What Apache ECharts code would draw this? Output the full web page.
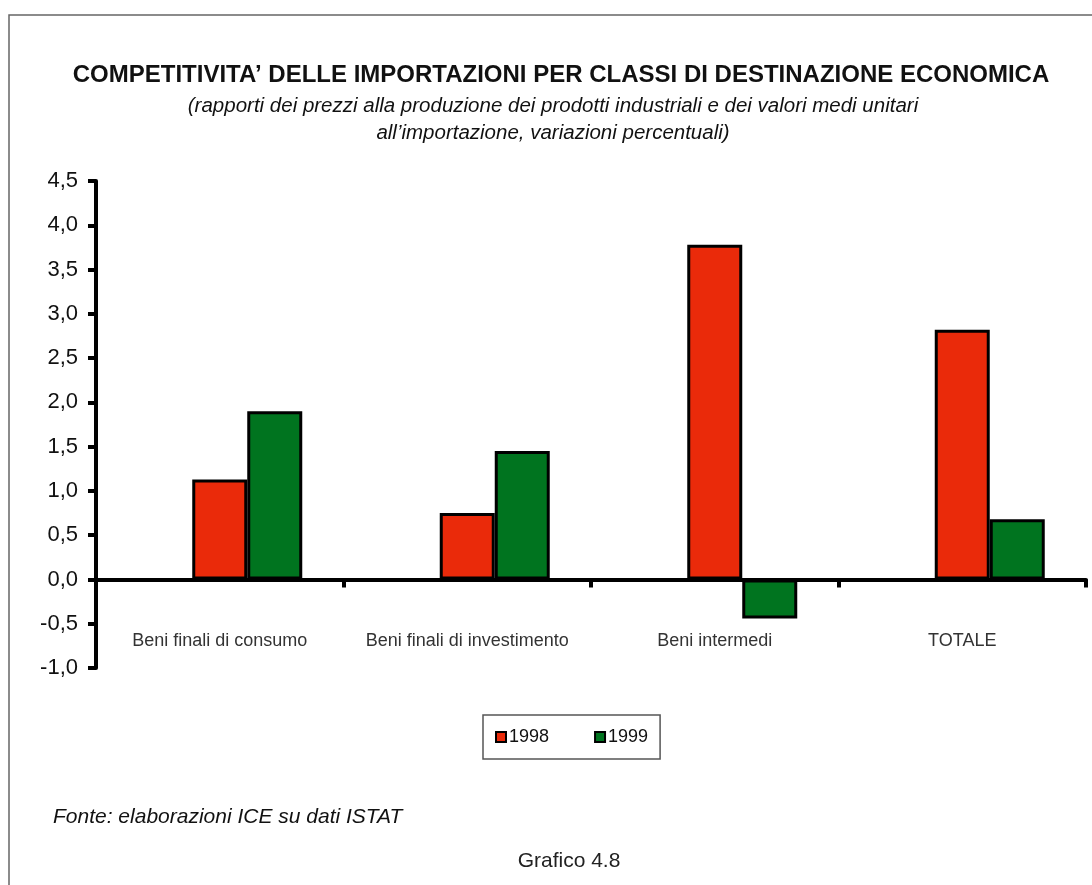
<!DOCTYPE html>
<html>
<head>
<meta charset="utf-8">
<script src="https://cdn.jsdelivr.net/npm/echarts@6/dist/echarts.min.js"></script>
<style>
html,body{margin:0;padding:0;background:#fff;}
#chart{width:1092px;height:885px;}
</style>
</head>
<body>
<div id="chart"></div>
<script>
const categories = ['Beni finali di consumo', 'Beni finali di investimento', 'Beni intermedi', 'TOTALE'];
const series1998 = [1.13, 0.75, 3.78, 2.82];
const series1999 = [1.90, 1.45, -0.44, 0.68];
const emptySlot = [null, null, null, null];
const yMin = -1.0, yMax = 4.5, yStep = 0.5;
const titleText = 'COMPETITIVITA\u2019 DELLE IMPORTAZIONI PER CLASSI DI DESTINAZIONE ECONOMICA';
const subtitleText = '(rapporti dei prezzi alla produzione dei prodotti industriali e dei valori medi unitari\nall\u2019importazione, variazioni percentuali)';
const sourceText = 'Fonte: elaborazioni ICE su dati ISTAT';
const figureText = 'Grafico 4.8';

const FONT = '"Liberation Sans", Arial, Helvetica, sans-serif';
const chart = echarts.init(document.getElementById('chart'), null, {renderer: 'canvas'});
const barBorder = {borderColor: '#000', borderWidth: 3};

chart.setOption({
  backgroundColor: '#fff',
  animation: false,
  textStyle: {fontFamily: FONT},
  title: [
    {text: titleText, left: 556, top: 58, textAlign: 'center',
     textStyle: {fontFamily: FONT, fontSize: 24, fontWeight: 'bold', color: '#111'}},
    {text: subtitleText, left: 548, top: 88, textAlign: 'center',
     textStyle: {fontFamily: FONT, fontSize: 20.5, fontStyle: 'italic', fontWeight: 'normal', color: '#111', lineHeight: 27}},
    {text: sourceText, left: 48, top: 802,
     textStyle: {fontFamily: FONT, fontSize: 21, fontStyle: 'italic', fontWeight: 'normal', color: '#111'}},
    {text: figureText, left: 564, top: 846, textAlign: 'center',
     textStyle: {fontFamily: FONT, fontSize: 21, fontWeight: 'normal', color: '#222'}}
  ],
  graphic: [
    {type: 'rect', shape: {x: 9, y: 15, width: 1200, height: 1000},
     style: {fill: 'none', stroke: '#666', lineWidth: 1.5}, silent: true, z: -10}
  ],
  legend: {
    data: ['1998', '1999'],
    left: 483, top: 715,
    padding: [13, 12, 13, 12],
    itemGap: 45,
    itemWidth: 10, itemHeight: 10,
    icon: 'rect',
    borderColor: '#555', borderWidth: 1.5,
    textStyle: {fontFamily: FONT, fontSize: 18, color: '#111', padding: [0, 0, 0, -2]}
  },
  grid: {left: 96, right: 6, top: 181, bottom: 217, containLabel: false},
  xAxis: {
    type: 'category',
    data: categories,
    axisLine: {onZero: true, lineStyle: {color: '#000', width: 4}},
    axisTick: {show: true, interval: 0, length: 8, lineStyle: {color: '#000', width: 4}},
    axisLabel: {interval: 0, hideOverlap: false, margin: -36, fontFamily: FONT, fontSize: 18, color: '#333'},
    splitLine: {show: false}
  },
  yAxis: {
    type: 'value',
    min: yMin, max: yMax, interval: yStep,
    axisLine: {show: true, onZero: false, lineStyle: {color: '#000', width: 4}},
    axisTick: {show: true, length: 8, lineStyle: {color: '#000', width: 4}},
    axisLabel: {margin: 18, fontFamily: FONT, fontSize: 22, color: '#111',
      formatter: v => v.toFixed(1).replace('.', ',')},
    splitLine: {show: false}
  },
  series: [
    {name: 'gap', type: 'bar', data: emptySlot, barWidth: 55, barGap: '0%', silent: true},
    {name: '1998', type: 'bar', data: series1998, barWidth: 55, barGap: '0%',
     itemStyle: Object.assign({color: '#EA2A0A'}, barBorder)},
    {name: '1999', type: 'bar', data: series1999, barWidth: 55, barGap: '0%',
     itemStyle: Object.assign({color: '#00741F'}, barBorder)}
  ]
});
</script>
</body>
</html>
